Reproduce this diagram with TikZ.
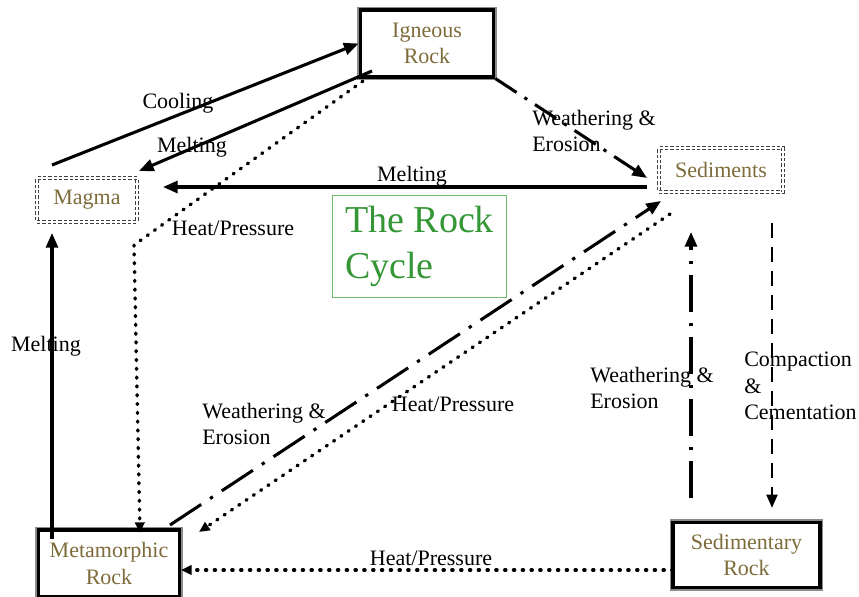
\documentclass[tikz,border=0pt]{standalone}
\usepackage{fontspec}
\setmainfont{Liberation Serif}
\usepackage{xcolor}
\usetikzlibrary{arrows.meta,calc,positioning}

\definecolor{rocktext}{RGB}{125,108,58}
\definecolor{titlegreen}{RGB}{52,150,52}
\definecolor{titleframe}{RGB}{110,185,110}

\tikzset{
  rock/.style={draw=black, line width=2.6pt, fill=white, preaction={draw=black!45, line width=5.2pt},
    text=rocktext, align=center, font=\fontsize{16.5}{20}\selectfont, inner sep=0pt},
  loose/.style={draw=black!75, double=white, double distance=0.9pt, line width=0.9pt,
    dash pattern=on 2.5pt off 1.5pt, text=rocktext, font=\fontsize{16.5}{20}\selectfont, inner sep=0pt},
  lbl/.style={font=\fontsize{16.5}{19.5}\selectfont, align=left, inner sep=0pt},
  solidarr/.style={-{Triangle[length=11pt,width=9pt]}, line width=2.3pt},
  dotarr/.style={-{Triangle[length=8pt,width=7pt]}, line width=2.6pt, line cap=round, dash pattern=on 0.8pt off 5.8pt},
  dasharr/.style={-{Triangle[length=10pt,width=8pt]}, line width=2.2pt, dash pattern=on 11pt off 7pt},
  dotdash/.style={-{Triangle[length=11pt,width=9pt]}, line width=2.3pt, dash pattern=on 19pt off 7pt on 2.5pt off 7pt},
  longdotdash/.style={-{Triangle[length=11pt,width=9pt]}, line width=2.3pt, dash pattern=on 28pt off 8pt on 2.5pt off 8pt}
}

\begin{document}
\begin{tikzpicture}[x=0.75pt, y=-0.75pt]
    \useasboundingbox (0,0) rectangle (859,596);

    % Rock and material boxes
    \node[rock, minimum width=100pt, minimum height=50pt] (ign) at (427,43.5) {Igneous\\Rock};
    \node[loose, minimum width=75pt, minimum height=33pt] (mag) at (87,200) {Magma};
    \node[loose, minimum width=93pt, minimum height=33pt] (sed) at (721,170) {Sediments};
    \node[rock, minimum width=106pt, minimum height=50pt] (met) at (109,563.5) {Metamorphic\\Rock};
    \node[rock, minimum width=110pt, minimum height=49pt] (sdr) at (746.5,555) {Sedimentary\\Rock};

    % Title
    \node[draw=titleframe, line width=0.8pt, minimum width=131pt, minimum height=77pt, text=titlegreen,
      font=\fontsize{28.5}{34.5}\selectfont, align=left, inner sep=0pt] (title) at (419.5,246.5) {The Rock\\Cycle};

    % Free ends of the connectors
    \coordinate (coolA) at (52,165);
    \coordinate (meltA) at (372,71);
    \coordinate (meltB) at (139,171);
    \coordinate (hpA) at (370,76);
    \coordinate (hpBend) at (134,245);
    \coordinate (hpB) at (140,533);
    \coordinate (weB) at (647,178);
    \coordinate (melt2A) at (647,187);
    \coordinate (melt2B) at (163,187);
    \coordinate (weLongA) at (170,525);
    \coordinate (weLongB) at (661,201);
    \coordinate (hpLongA) at (670,214);
    \coordinate (hpLongB) at (199,532);
    \coordinate (weUpA) at (691,498);
    \coordinate (weUpB) at (691,232);
    \coordinate (ccA) at (772,223);
    \coordinate (ccB) at (772,508);
    \coordinate (hpLowA) at (673,570);
    \coordinate (hpLowB) at (181,570);
    \coordinate (meltUpA) at (52,539);
    \coordinate (meltUpB) at (52,233);

    % Connectors
    \draw[solidarr] (coolA) -- (ign.west);
    \draw[solidarr] (meltA) -- (meltB);
    \draw[dotarr] (hpA) -- (hpBend) -- (hpB);
    \draw[dotdash] (ign.south east) -- (weB);
    \draw[solidarr] (melt2A) -- (melt2B);
    \draw[longdotdash] (weLongA) -- (weLongB);
    \draw[dotarr] (hpLongA) -- (hpLongB);
    \draw[longdotdash] (weUpA) -- (weUpB);
    \draw[dasharr] (ccA) -- (ccB);
    \draw[dotarr] (hpLowA) -- (hpLowB);
    \draw[solidarr] (meltUpA) -- (meltUpB);

    % Labels
    \node[lbl] (lcool) at (178,103) {Cooling};
    \node[lbl] (lmelt) at (192,147) {Melting};
    \node[lbl] (lhp) at (233,228) {Heat/Pressure};
    \node[lbl, anchor=west] (lwe) at (532,131) {Weathering \&\\Erosion};
    \node[lbl] (lmelt2) at (412,176) {Melting};
    \node[lbl, anchor=west] (lweLong) at (202,424) {Weathering \&\\Erosion};
    \node[lbl] (lhpLong) at (453,404) {Heat/Pressure};
    \node[lbl, anchor=west] (lweUp) at (590,388) {Weathering \&\\Erosion};
    \node[lbl, anchor=west, font=\fontsize{16.5}{20}\selectfont] (lcc) at (744,386) {Compaction\\\&\\Cementation};
    \node[lbl] (lhpLow) at (431,558) {Heat/Pressure};
    \node[lbl] (lmeltUp) at (46,346) {Melting};
\end{tikzpicture}
\end{document}
